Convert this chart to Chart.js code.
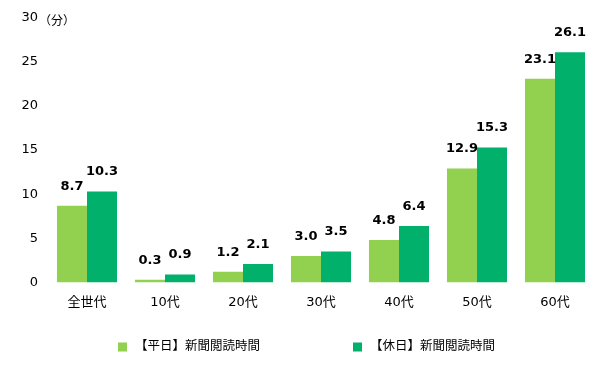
<!DOCTYPE html>
<html>
<head>
<meta charset="utf-8">
<script src="https://cdn.jsdelivr.net/npm/chart.js@4.4.1/dist/chart.umd.min.js"></script>
<style>
  html, body { margin: 0; padding: 0; background: #fff; }
  #wrap { position: relative; width: 605px; height: 378px; }
</style>
</head>
<body>
<div id="wrap"><canvas id="chart"></canvas></div>
<script>
const categories = ['全世代', '10代', '20代', '30代', '40代', '50代', '60代'];
const weekday = [8.7, 0.3, 1.2, 3.0, 4.8, 12.9, 23.1];
const holiday = [10.3, 0.9, 2.1, 3.5, 6.4, 15.3, 26.1];
const seriesNames = ['【平日】新聞閲読時間', '【休日】新聞閲読時間'];
const yTicks = [0, 5, 10, 15, 20, 25, 30];

const FONT = '"DejaVu Sans", "Noto Sans CJK JP", sans-serif';

// value labels, unit label and a legend spread out along the bottom
const extras = {
    id: 'extras',
    afterDatasetsDraw(chart) {
        const ctx = chart.ctx;
        ctx.save();
        ctx.font = 'bold 13px ' + FONT;
        ctx.fillStyle = '#000';
        ctx.textAlign = 'center';
        ctx.textBaseline = 'bottom';
        chart.data.datasets.forEach((ds, i) => {
            chart.getDatasetMeta(i).data.forEach((bar, j) => {
                ctx.fillText(ds.data[j].toFixed(1), bar.x, bar.y - 13);
            });
        });

        ctx.font = '12px ' + FONT;
        ctx.textAlign = 'left';
        ctx.textBaseline = 'middle';
        ctx.fillText('（分）', chart.chartArea.left - 9, chart.scales.y.getPixelForValue(30) + 4);

        // legend
        ctx.font = '12.5px ' + FONT;
        const gap = 93;
        const box = 9;
        const widths = chart.data.datasets.map(ds => box + 8 + ctx.measureText(ds.label).width);
        let x = (chart.width - (widths[0] + widths[1] + gap)) / 2 + 4;
        const y = 347;
        chart.data.datasets.forEach((ds, i) => {
            ctx.fillStyle = ds.backgroundColor;
            ctx.fillRect(x, y - 4.5, box, box);
            ctx.fillStyle = '#000';
            ctx.fillText(ds.label, x + box + 8, y);
            x += widths[i] + gap;
        });
        ctx.restore();
    }
};

new Chart(document.getElementById('chart'), {
    type: 'bar',
    data: {
        labels: categories,
        datasets: [
            { label: seriesNames[0], data: weekday, backgroundColor: '#92D050' },
            { label: seriesNames[1], data: holiday, backgroundColor: '#00B06B' }
        ]
    },
    options: {
        responsive: true,
        maintainAspectRatio: false,
        animation: false,
        layout: { padding: { top: 6, left: 0, right: 11, bottom: 56 } },
        datasets: { bar: { categoryPercentage: 0.77, barPercentage: 1.0 } },
        scales: {
            x: {
                grid: { display: false, drawTicks: false },
                border: { display: false },
                ticks: { color: '#000', font: { family: FONT, size: 13 }, padding: 12 }
            },
            y: {
                min: 0,
                max: 30,
                afterBuildTicks(scale) { scale.ticks = yTicks.map(v => ({ value: v })); },
                afterFit(scale) { scale.width = 48; },
                grid: { display: false, drawTicks: false },
                border: { display: false },
                ticks: { color: '#000', font: { family: FONT, size: 13 }, padding: 10, crossAlign: 'near' }
            }
        },
        plugins: {
            tooltip: { enabled: false },
            legend: { display: false }
        }
    },
    plugins: [extras]
});
</script>
</body>
</html>
